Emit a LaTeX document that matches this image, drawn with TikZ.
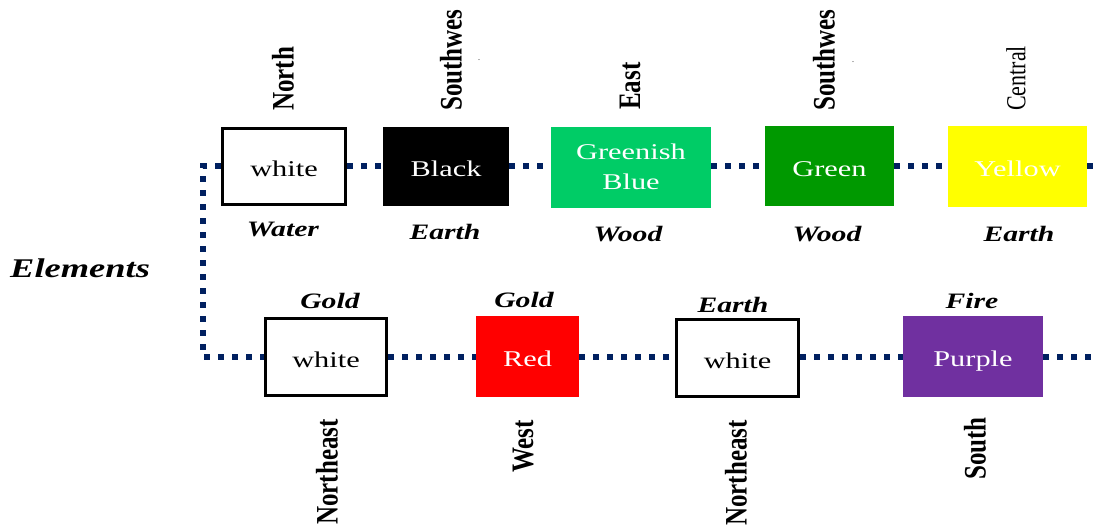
\documentclass[tikz,border=0pt]{standalone}
\usepackage{fontspec}
\setmainfont{Liberation Serif}
\usepackage{graphicx}
\newcommand\hstr[1]{\scalebox{1.35}[1]{#1}}
\newcommand\vstr[1]{\scalebox{1}[1.25]{#1}}
\definecolor{navy}{RGB}{0,32,96}
\definecolor{gblue}{RGB}{0,204,102}
\definecolor{gr}{RGB}{0,153,0}
\definecolor{yl}{RGB}{255,255,0}
\definecolor{rd}{RGB}{255,0,0}
\definecolor{pu}{RGB}{112,48,160}
\tikzset{
  box/.style={inner sep=0pt, align=center, font=\fontsize{22.5}{26}\selectfont},
  one/.style={text height=21pt, text depth=0pt},
  wbox/.style={box, one, draw=black, line width=3pt, fill=white, text=black},
  cbox/.style={box, fill=#1, text=white},
  elem/.style={inner sep=0pt, font=\fontsize{22}{26}\selectfont\bfseries\itshape},
  dirlbl/.style={inner sep=0pt, rotate=90, font=\fontsize{25}{30}\selectfont\bfseries},
  dotline/.style={draw=navy, line width=5.5pt, dash pattern=on 6pt off 8pt}
}
\begin{document}
\begin{tikzpicture}[x=1pt,y=-1pt]
\useasboundingbox (0,0) rectangle (1095,525);
% top row boxes
\node[wbox, minimum width=123pt, minimum height=76pt] (t1) at (284,166) {\hstr{white}};
\node[cbox=black, one, minimum width=126pt, minimum height=79pt] (t2) at (446,166) {\hstr{Black}};
\node[cbox=gblue, minimum width=160pt, minimum height=81pt] (t3) at (631,167) {\hstr{Greenish}\\[4pt]\hstr{Blue}};
\node[cbox=gr, one, minimum width=129pt, minimum height=80pt] (t4) at (829.5,166) {\hstr{Green}};
\node[cbox=yl, one, minimum width=139pt, minimum height=81pt] (t5) at (1017.5,166) {\hstr{Yellow}};
% bottom row boxes
\node[wbox, minimum width=121pt, minimum height=77pt] (b1) at (326,357) {\hstr{white}};
\node[cbox=rd, one, minimum width=103pt, minimum height=81pt] (b2) at (527.5,356) {\hstr{Red}};
\node[wbox, minimum width=122pt, minimum height=77pt] (b3) at (737.5,357.5) {\hstr{white}};
\node[cbox=pu, one, minimum width=140pt, minimum height=81pt] (b4) at (973,356) {\hstr{Purple}};
% connector coordinates
\coordinate (ctop) at (203,166);
\coordinate (cbot) at (203,357);
\coordinate (rtop) at (1095,166);
\coordinate (rbot) at (1095,357);
% dotted connectors
\draw[dotline] (t1.west) -- (ctop) -- (cbot) -- (b1.west);
\draw[dotline] (t1.east) -- (t2.west);
\draw[dotline] (t2.east) -- (t3.west |- t2.east);
\draw[dotline] (t3.east |- t2.east) -- (t4.west);
\draw[dotline] (t4.east) -- (t5.west);
\draw[dotline] (t5.east) -- (rtop);
\draw[dotline] (b1.east) -- (b2.west |- b1.east);
\draw[dotline] (b2.east |- b1.east) -- (b3.west |- b1.east);
\draw[dotline] (b3.east |- b1.east) -- (b4.west |- b1.east);
\draw[dotline] (b4.east |- b1.east) -- (rbot);
% direction labels top
\node[dirlbl, anchor=west] (dn) at (283,111) {\vstr{North}};
\node[dirlbl, anchor=west] (dsw1) at (451,111) {\vstr{Southwes}};
\node[dirlbl, anchor=west] (de) at (630,110) {\vstr{East}};
\node[dirlbl, anchor=west] (dsw2) at (824,111) {\vstr{Southwes}};
\node[dirlbl, anchor=west, font=\fontsize{22}{26}\selectfont] (dc) at (1016,111) {\vstr{Central}};
\node[inner sep=0pt, font=\fontsize{8}{8}\selectfont] (m1) at (479,60) {.};
\node[inner sep=0pt, font=\fontsize{8}{8}\selectfont] (m2) at (853,62) {.};
% direction labels bottom
\node[dirlbl, anchor=east] (dne1) at (327,419) {\vstr{Northeast}};
\node[dirlbl, anchor=east] (dw) at (523,420) {\vstr{West}};
\node[dirlbl, anchor=east] (dne2) at (736,420) {\vstr{Northeast}};
\node[dirlbl, anchor=east] (ds) at (975,417) {\vstr{South}};
% element labels
\node[elem] (e1) at (283,229) {\hstr{Water}};
\node[elem] (e2) at (445,232) {\hstr{Earth}};
\node[elem] (e3) at (628,234) {\hstr{Wood}};
\node[elem] (e4) at (827,234) {\hstr{Wood}};
\node[elem] (e5) at (1019,234) {\hstr{Earth}};
\node[elem] (e6) at (330,301) {\hstr{Gold}};
\node[elem] (e7) at (524,300) {\hstr{Gold}};
\node[elem] (e8) at (733,305) {\hstr{Earth}};
\node[elem] (e9) at (972,301) {\hstr{Fire}};
\node[elem, anchor=west, font=\fontsize{27}{32}\selectfont\bfseries\itshape] (el) at (10,268) {\hstr{Elements}};
\end{tikzpicture}
\end{document}
